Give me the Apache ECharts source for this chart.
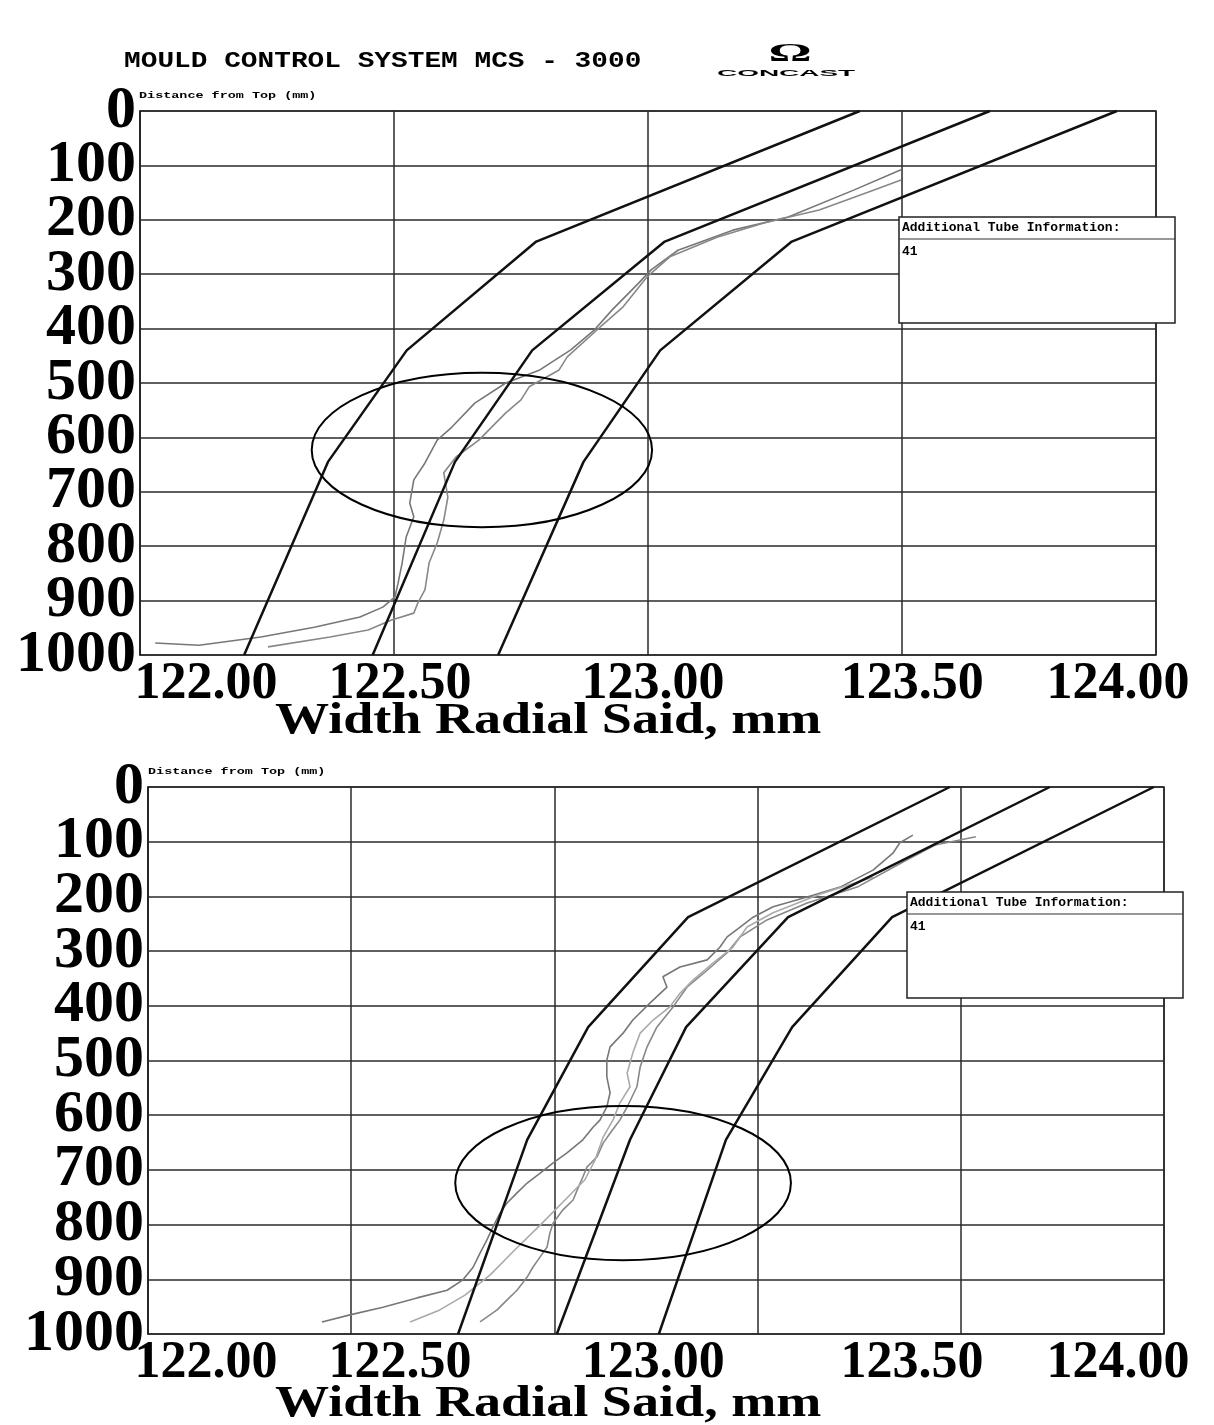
<!DOCTYPE html>
<html>
<head>
<meta charset="utf-8">
<title>Mould Control System MCS - 3000</title>
<script src="https://cdn.jsdelivr.net/npm/echarts@6.0.0/dist/echarts.min.js"></script>
<style>
html, body { margin: 0; padding: 0; background: #fff; }
#chart { width: 1214px; height: 1425px; }
</style>
</head>
<body>
<div id="chart"></div>
<script>
// depth below top of mould tube (mm) where the taper limits bend
var depthTop = [0, 240, 440, 645, 1000];
var depthBottom = [0, 238, 439, 645, 1000];

// taper limit lines, width in mm at each depth
var topLower = [123.417, 122.780, 122.525, 122.370, 122.205];
var topNominal = [123.673, 123.033, 122.772, 122.620, 122.458];
var topUpper = [123.923, 123.283, 123.024, 122.873, 122.705];

var bottomLower = [123.973, 123.329, 123.083, 122.933, 122.763];
var bottomNominal = [124.219, 123.575, 123.324, 123.186, 123.006];
var bottomUpper = [124.475, 123.831, 123.585, 123.422, 123.257];

// measured profiles [width mm, depth mm]
var measTop1 = [[123.498,108],[123.406,145],[123.276,195],[123.167,219],[123.059,256],[123.006,292],[122.982,316],
  [122.929,366],[122.894,403],[122.848,439],[122.787,476],[122.720,500],[122.659,537],[122.614,581],[122.585,605],
  [122.561,647],[122.539,678],[122.531,721],[122.539,746],[122.524,783],[122.516,831],[122.508,868],[122.502,893],
  [122.478,912],[122.433,930],[122.343,949],[122.238,967],[122.116,982],[122.030,978]];
var measTop2 = [[123.498,127],[123.445,145],[123.337,182],[123.228,206],[123.136,232],[123.043,268],[122.998,305],
  [122.951,360],[122.906,397],[122.841,452],[122.825,476],[122.766,507],[122.750,531],[122.720,555],[122.667,605],
  [122.622,636],[122.598,665],[122.606,710],[122.598,752],[122.585,794],[122.569,831],[122.561,880],[122.547,904],
  [122.539,923],[122.494,936],[122.449,954],[122.374,967],[122.252,985]];

var measBottom1 = [[123.882,88],[123.850,102],[123.833,121],[123.784,152],[123.703,183],[123.622,201],[123.538,219],
  [123.489,238],[123.457,256],[123.425,274],[123.407,293],[123.376,316],[123.309,329],[123.267,347],[123.277,366],
  [123.235,395],[123.193,426],[123.169,450],[123.137,475],[123.129,499],[123.129,530],[123.137,559],[123.129,585],
  [123.112,609],[123.095,622],[123.070,645],[123.031,669],[122.997,687],[122.965,706],[122.933,724],[122.908,742],
  [122.883,761],[122.866,779],[122.849,804],[122.834,828],[122.817,852],[122.800,878],[122.775,901],[122.736,920],
  [122.662,934],[122.578,951],[122.497,965],[122.428,978]];
var measBottom2 = [[124.037,91],[123.937,106],[123.868,133],[123.745,183],[123.622,212],[123.523,243],[123.457,274],
  [123.425,303],[123.376,335],[123.326,366],[123.292,402],[123.252,439],[123.228,475],[123.211,512],[123.203,548],
  [123.179,585],[123.161,609],[123.137,633],[123.120,651],[123.105,676],[123.080,695],[123.070,713],[123.056,737],
  [123.046,755],[123.021,773],[122.997,797],[122.989,815],[122.982,841],[122.965,859],[122.947,878],[122.933,896],
  [122.908,920],[122.883,938],[122.859,956],[122.817,978]];
var measBottom3 = [[123.784,165],[123.661,194],[123.538,230],[123.474,256],[123.439,293],[123.390,322],[123.341,353],
  [123.309,377],[123.284,402],[123.243,426],[123.211,450],[123.193,486],[123.179,523],[123.186,548],[123.161,578],
  [123.144,609],[123.120,640],[123.100,682],[123.075,718],[123.026,755],[122.965,801],[122.903,846],[122.842,892],
  [122.780,929],[122.718,956],[122.645,978]];

// printed scale labels and where they sit along each width axis
var xTickLabels = ['122.00', '122.50', '123.00', '123.50', '124.00'];
var xLabelAtTop = [122.130, 122.512, 123.010, 123.520, 123.925];
var xLabelAtBottom = [122.143, 122.620, 123.243, 123.880, 124.387];
var depthTicks = [0, 100, 200, 300, 400, 500, 600, 700, 800, 900, 1000];

// highlighted zones [centre width, centre depth, half width, half depth]
var zoneTop = [122.673, 623, 0.335, 142];
var zoneBottom = [123.169, 724, 0.413, 141];

var chart = echarts.init(document.getElementById('chart'));

function pairs(xs, ys) {
  return xs.map(function (x, i) { return [x, ys[i]]; });
}

function widthAxes(gi, max, labelAt) {
  return [{
    type: 'value', gridIndex: gi, min: 122, max: max, interval: 0.5,
    axisLine: { show: false }, axisTick: { show: false }, axisLabel: { show: false },
    splitLine: { show: true, lineStyle: { color: '#2a2a2a', width: 1.5 } }
  }, {
    type: 'value', gridIndex: gi, min: 122, max: max, position: 'bottom',
    axisLine: { show: false }, axisTick: { show: false }, splitLine: { show: false },
    axisLabel: {
      show: true, customValues: labelAt, margin: 4, hideOverlap: false,
      fontFamily: 'Liberation Serif', fontWeight: 'bold', fontSize: 52, color: '#000',
      formatter: function (v) {
        var best = 0;
        labelAt.forEach(function (p, i) { if (Math.abs(p - v) < Math.abs(labelAt[best] - v)) best = i; });
        return xTickLabels[best];
      }
    }
  }];
}

// the big depth numbers are taller than the 100 mm step, so they are split over
// two label-only axes (even and odd steps) to keep ECharts from dropping any
function depthAxes(gi) {
  var main = {
    type: 'value', gridIndex: gi, min: 0, max: 1000, interval: 100, inverse: true,
    axisLine: { show: true, lineStyle: { color: '#222', width: 1.5 } },
    axisTick: { show: false }, axisLabel: { show: false },
    splitLine: { show: true, lineStyle: { color: '#2a2a2a', width: 1.5 } }
  };
  function labelAxis(parity) {
    return {
      type: 'value', gridIndex: gi, min: 0, max: 1000, inverse: true, position: 'left',
      axisLine: { show: false }, axisTick: { show: false }, splitLine: { show: false },
      axisLabel: {
        margin: 4, hideOverlap: false,
        customValues: depthTicks.filter(function (d, i) { return i % 2 === parity; }),
        fontFamily: 'Liberation Serif', fontWeight: 'bold', fontSize: 60, color: '#000',
        formatter: function (v) { return String(v); }
      }
    };
  }
  return [main, labelAxis(0), labelAxis(1)];
}

function limitLine(xi, yi, xs, ys) {
  return {
    type: 'line', xAxisIndex: xi, yAxisIndex: yi, data: pairs(xs, ys),
    showSymbol: false, silent: true, z: 4,
    lineStyle: { color: '#111', width: 2.5 }
  };
}

function profile(xi, yi, data, color) {
  return {
    type: 'line', xAxisIndex: xi, yAxisIndex: yi, data: data,
    showSymbol: false, silent: true, z: 3,
    lineStyle: { color: color, width: 1.6 }
  };
}

chart.setOption({
  animation: false,
  backgroundColor: '#fff',
  grid: [
    { left: 140, top: 111, width: 1016, height: 544, show: true, borderColor: '#222', borderWidth: 1.5, outerBoundsMode: 'none' },
    { left: 148, top: 787, width: 1016, height: 547, show: true, borderColor: '#222', borderWidth: 1.5, outerBoundsMode: 'none' }
  ],
  xAxis: widthAxes(0, 124, xLabelAtTop).concat(widthAxes(1, 124.5, xLabelAtBottom)),
  yAxis: depthAxes(0).concat(depthAxes(1)),
  series: [
    profile(0, 0, measTop1, '#777'),
    profile(0, 0, measTop2, '#888'),
    limitLine(0, 0, topLower, depthTop),
    limitLine(0, 0, topNominal, depthTop),
    limitLine(0, 0, topUpper, depthTop),
    profile(2, 3, measBottom1, '#777'),
    profile(2, 3, measBottom2, '#888'),
    profile(2, 3, measBottom3, '#aaa'),
    limitLine(2, 3, bottomLower, depthBottom),
    limitLine(2, 3, bottomNominal, depthBottom),
    limitLine(2, 3, bottomUpper, depthBottom)
  ]
});

function zoneEllipse(gi, z) {
  var c = chart.convertToPixel({ gridIndex: gi }, [z[0], z[1]]);
  var e = chart.convertToPixel({ gridIndex: gi }, [z[0] + z[2], z[1] + z[3]]);
  return {
    type: 'ellipse', z: 50, silent: true,
    shape: { cx: c[0], cy: c[1], rx: Math.abs(e[0] - c[0]), ry: Math.abs(e[1] - c[1]) },
    style: { fill: null, stroke: '#000', lineWidth: 2 }
  };
}

function label(x, y, text, font, opts, align) {
  var el = {
    type: 'text', x: x, y: y, z: 60, silent: true,
    style: {
      text: text, font: font, fill: '#000',
      textAlign: align || 'left', textVerticalAlign: 'middle', align: align || 'left', verticalAlign: 'middle'
    }
  };
  if (opts) { for (var k in opts) el[k] = opts[k]; }
  return el;
}

function infoBox(x, y) {
  return [
    { type: 'rect', z: 55, silent: true, shape: { x: x, y: y, width: 276, height: 106 },
      style: { fill: '#fff', stroke: '#222', lineWidth: 1.5 } },
    { type: 'line', z: 56, silent: true, shape: { x1: x, y1: y + 22, x2: x + 276, y2: y + 22 },
      style: { stroke: '#333', lineWidth: 1.2 } },
    label(x + 3, y + 11, 'Additional Tube Information:', 'bold 13px "Liberation Mono"'),
    label(x + 3, y + 35, '41', 'bold 13px "Liberation Mono"')
  ];
}

var axisTitleFont = 'bold 44px "Liberation Serif"';

chart.setOption({
  graphic: [
    label(124, 61, 'MOULD CONTROL SYSTEM MCS - 3000', 'bold 27px "Liberation Mono"', { scaleX: 1.03, scaleY: 0.85 }),
    label(790, 54, 'Ω', 'bold 30px "Liberation Serif"', { scaleX: 1.8, scaleY: 0.85 }, 'center'),
    label(717, 73, 'CONCAST', 'bold 13px "Liberation Sans"', { scaleX: 2.15, scaleY: 0.75 }),
    label(139, 96, 'Distance from Top (mm)', 'bold 12px "Liberation Mono"', { scaleX: 1.12, scaleY: 0.8 }),
    label(148, 772, 'Distance from Top (mm)', 'bold 12px "Liberation Mono"', { scaleX: 1.12, scaleY: 0.8 }),
    label(275, 722, 'Width Radial Said, mm', axisTitleFont, { scaleX: 1.23 }),
    label(275, 1405, 'Width Radial Said, mm', axisTitleFont, { scaleX: 1.23 }),
    zoneEllipse(0, zoneTop),
    zoneEllipse(1, zoneBottom)
  ].concat(infoBox(899, 217)).concat(infoBox(907, 892))
});
</script>
</body>
</html>
